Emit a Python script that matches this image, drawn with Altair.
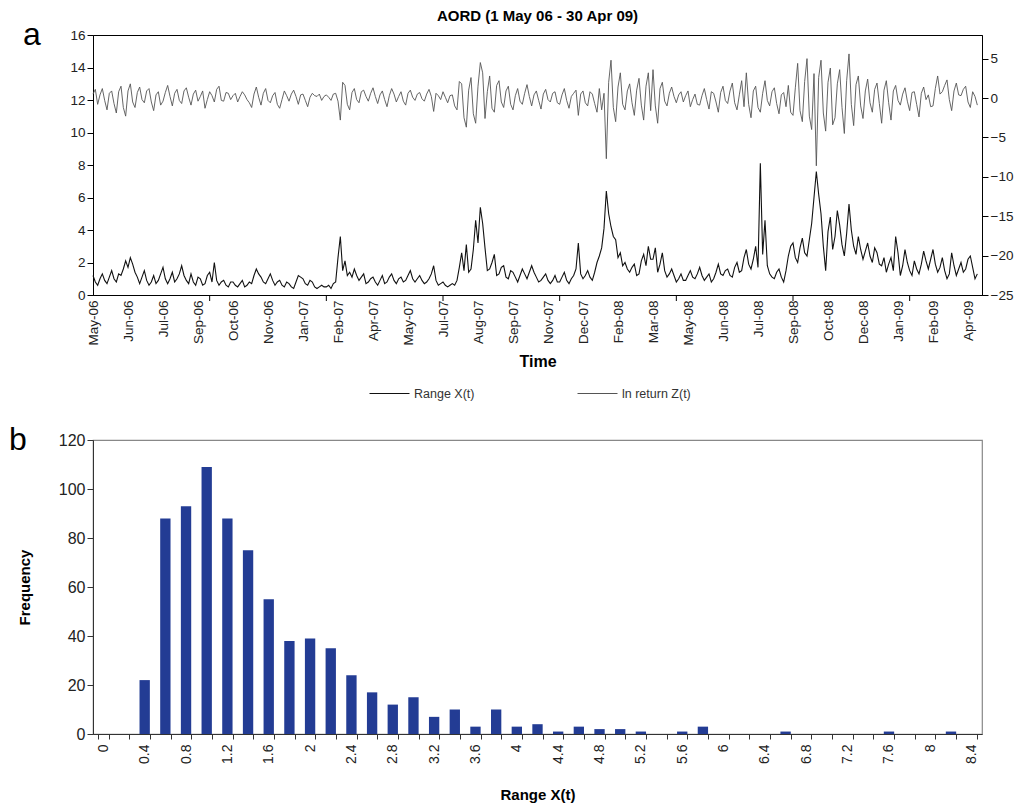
import json
import altair as alt
import pandas as pd

FONT = "Liberation Sans"

# ---------------- Panel a: daily series (sampled every 2 trading days) ----------------
day_index = list(range(0, 760, 2))  # trading-day index 0..758

range_x = [
    1.2, 0.8, 0.6, 1.0, 1.3, 0.9, 0.7, 1.1, 1.5, 1.0, 0.8, 1.3, 1.2, 1.6, 2.1, 1.7, 2.3, 1.9, 1.4, 1.1,
    0.7, 1.1, 1.5, 0.9, 0.6, 0.8, 1.2, 0.7, 0.9, 1.3, 1.7, 1.0, 0.7, 1.0, 1.4, 0.8, 1.0, 1.3, 1.8, 1.2,
    0.9, 0.7, 1.3, 0.8, 0.6, 1.1, 1.0, 0.6, 0.7, 1.2, 1.4, 0.8, 2.0, 0.9, 0.6, 0.8, 0.9, 0.6, 0.5, 0.8,
    0.8, 0.6, 0.5, 0.7, 0.9, 0.5, 0.6, 0.8, 0.7, 1.2, 1.6, 1.3, 1.1, 0.8, 0.7, 1.0, 1.3, 0.9, 0.6, 0.8,
    0.9, 0.6, 0.5, 0.8, 0.7, 0.5, 0.4, 0.8, 1.2, 1.1, 1.0, 0.7, 0.6, 0.9, 0.8, 0.5, 0.4, 0.5, 0.6, 0.5,
    0.5, 0.6, 0.4, 0.7, 0.8, 2.3, 3.6, 1.5, 2.1, 1.2, 1.4, 1.1, 1.6, 1.2, 0.9, 1.1, 1.3, 0.7, 0.8, 1.0,
    1.1, 0.8, 0.6, 0.9, 1.2, 0.7, 0.8, 1.1, 1.3, 0.9, 0.7, 1.0, 1.1, 0.8, 0.9, 1.2, 1.5, 1.0, 0.8, 1.0,
    1.2, 0.9, 0.7, 0.8, 1.0, 1.3, 1.8, 0.9, 0.6, 0.7, 0.8, 0.6, 0.5, 0.6, 0.7, 0.6, 0.9, 1.7, 2.6, 1.5,
    3.1, 1.4, 1.6, 2.8, 4.6, 3.2, 5.4, 4.4, 2.9, 1.5, 1.6, 2.0, 2.5, 1.2, 1.3, 1.7, 1.8, 1.1, 1.0, 1.5,
    1.4, 1.1, 0.8, 1.2, 1.6, 1.3, 1.0, 1.4, 1.8, 1.4, 1.1, 0.8, 0.9, 1.1, 1.3, 0.9, 0.7, 0.9, 1.2, 0.8,
    0.8, 1.1, 1.4, 0.9, 0.7, 1.0, 1.2, 1.6, 3.2, 1.3, 1.0, 1.2, 1.5, 1.1, 0.9, 1.4, 2.0, 2.4, 2.9, 4.1,
    6.4, 5.0, 4.2, 3.6, 3.4, 2.3, 2.6, 1.8, 2.0, 1.6, 1.4, 1.7, 1.9, 1.2, 1.3, 2.1, 2.5, 1.8, 3.0, 2.2,
    2.2, 2.9, 1.4, 1.9, 2.6, 1.5, 1.1, 1.3, 1.6, 1.2, 0.8, 1.0, 1.3, 0.9, 0.9, 1.2, 1.5, 1.1, 1.0, 1.3,
    1.7, 1.2, 0.9, 1.1, 1.3, 0.8, 1.0, 1.4, 1.9, 1.3, 1.2, 1.5, 1.6, 1.2, 1.1, 1.7, 2.0, 1.4, 1.5, 2.3,
    2.8, 1.9, 1.6, 2.2, 3.0, 1.7, 8.1, 2.5, 4.6, 1.8, 1.3, 1.1, 1.0, 1.4, 1.6, 1.1, 0.8, 1.5, 2.4, 3.0,
    3.2, 2.3, 2.0, 2.9, 3.5, 2.6, 2.4, 3.4, 4.4, 6.0, 7.6, 6.2, 5.0, 3.0, 1.5, 3.9, 4.8, 2.8, 3.6, 5.2,
    4.3, 3.1, 2.4, 3.8, 5.6, 4.0, 3.0, 2.5, 3.6, 2.8, 2.2, 2.7, 3.2, 2.4, 2.0, 2.9, 2.6, 1.9, 1.8, 2.3,
    1.4, 1.9, 2.3, 1.5, 3.6, 2.6, 1.2, 1.8, 2.8, 2.0, 1.5, 1.2, 2.1, 1.6, 1.3, 1.9, 2.7, 2.1, 1.6, 2.2,
    2.8, 1.9, 1.4, 1.7, 2.3, 1.5, 1.0, 1.3, 2.6, 1.8, 1.2, 1.6, 2.0, 1.4, 1.6, 2.2, 2.4, 1.7, 1.0, 1.3,
]

ln_return = [
    0.5, 1.1, -0.8, 0.4, 1.2, -0.3, -1.5, 0.6, 0.9, -0.7, -1.9, 0.8, 1.5, -1.2, -2.3, 0.9, 1.8, -0.5, -1.2, 0.7,
    1.4, -0.2, -0.6, 0.9, 1.2, -0.5, -1.6, 0.4, 0.8, -0.9, -0.4, 0.7, 1.6, 0.2, -1.0, 0.6, 1.1, -0.3, -0.7, 0.9,
    1.3, 0.1, -0.9, 0.5, 1.0, -0.4, 0.2, 0.9, -1.3, -0.2, 0.8, 0.3, -0.5, 1.1, 1.5, -0.3, -0.4, 0.7, 0.6, -0.2,
    0.3, 0.6, -0.5, 0.2, 0.8, 0.4, -0.2, -0.6, -1.2, 0.5, 1.4, 0.1, -0.9, 0.6, 1.2, -0.3, -0.6, 0.3, 0.7, -0.8,
    -1.3, -0.2, 0.9, 0.3, -0.4, 0.5, 1.0, 0.2, -0.8, 0.4, 0.5, -0.3, -1.1, 0.1, 0.6, 0.3, 0.2, 0.5, -0.3, 0.2,
    0.4, 0.1, -0.3, 0.5, 0.6, -0.4, -2.8, 2.0, 1.6, -0.8, -1.5, 0.7, 1.2, -0.2, -0.6, 0.8, 1.0, 0.2, -0.4, 0.6,
    1.3, 0.2, -0.7, 0.4, 0.9, -0.2, -1.1, 0.3, 1.2, 0.5, -0.5, 0.2, 0.8, -0.4, -0.9, 0.6, 1.0, 0.1, -0.3, 0.5,
    0.7, -0.1, -0.4, 0.5, 1.1, 0.2, -1.7, 0.6, 0.3, -0.2, 0.8, 0.1, -0.6, 0.3, 0.4, -1.0, -1.5, 2.1, 1.8, -2.5,
    -3.7, 1.0, 2.6, -2.0, -3.2, 1.5, 4.5, 3.2, -2.6, 0.8, 2.8, -1.3, -1.8, 1.6, 2.2, -0.5, -1.2, 0.9, 1.5, -0.8,
    -1.5, 0.3, 1.2, -0.4, -0.8, 0.6, 1.7, 0.2, -1.0, 0.4, 0.9, -0.3, -1.4, 0.5, 1.1, -0.2, -0.5, 0.6, 0.8, -0.6,
    -0.8, 0.4, 1.2, -0.3, -1.3, 0.2, 0.6, 1.0, -2.2, 0.5, 0.9, -0.6, -1.0, 0.8, 0.5, -0.7, -1.8, 1.2, -1.5, 0.6,
    -7.7, 2.0, 4.8, -1.2, -3.0, 1.4, 3.2, -0.8, -1.5, 0.9, 1.8, -0.6, -2.2, 1.0, 2.5, -0.9, -2.8, 1.5, 3.2, -1.6,
    3.6, -1.0, -3.2, 1.2, 2.0, -0.4, -1.0, 0.6, 1.4, 0.2, -0.6, 0.4, 0.8, -0.5, 0.3, 0.9, -1.1, -0.2, 0.5, -0.8,
    -0.9, 0.3, 1.2, -0.2, -1.4, 0.8, 0.6, -0.5, -1.8, 0.7, 1.5, -0.3, -0.7, 0.9, 1.9, -0.6, -1.5, 0.4, 2.2, -1.1,
    3.2, -0.8, -2.5, 0.9, 1.5, -1.2, -1.8, 0.6, 2.2, -0.3, -1.0, 0.8, 1.3, -0.7, -2.0, 0.4, 0.7, -1.1, 1.6, -1.8,
    -2.2, 1.3, 4.4, -1.6, -3.0, 2.1, 5.0, -2.3, -4.0, 3.1, -8.6, 2.6, 4.8, -1.9, -4.2, 2.0, 3.8, -3.4, -2.5, 1.8,
    3.6, -1.2, -4.5, 2.2, 5.6, -0.8, -3.5, 1.7, 2.8, -1.0, -2.6, 0.9, 2.4, -0.6, -1.8, 1.1, 1.9, -0.7, -3.2, 1.0,
    2.2, -0.6, -2.8, 0.9, 1.6, -0.3, -0.9, 0.5, 1.3, -0.4, -1.6, 0.7, 0.8, -0.8, -2.4, 0.6, 1.4, -0.2, 0.4, -1.1,
    -1.0, 1.2, 2.8, 0.5, 0.8, 1.6, 2.3, -0.2, -1.6, 0.9, 1.9, 0.4, 0.3, 1.1, 1.5, -0.5, -1.2, 0.8, 0.2, -0.9,
]

month_labels = ["May-06", "Jun-06", "Jul-06", "Sep-06", "Oct-06", "Nov-06", "Jan-07",
                "Feb-07", "Apr-07", "May-07", "Jul-07", "Aug-07", "Sep-07", "Nov-07",
                "Dec-07", "Feb-08", "Mar-08", "May-08", "Jun-08", "Jul-08", "Sep-08",
                "Oct-08", "Dec-08", "Jan-09", "Feb-09", "Apr-09"]
label_positions = [0, 30, 60, 90, 120, 150, 180, 210, 240, 270, 300, 330, 360, 390,
                   420, 450, 480, 510, 540, 570, 600, 630, 660, 690, 720, 750]
major_ticks = [100, 200, 300, 400, 500, 600, 700]

series_names = ["Range X(t)", "ln return Z(t)"]

# ---------------- Panel b: histogram ----------------
bins = ["0", "0.2", "0.4", "0.6", "0.8", "1", "1.2", "1.4", "1.6", "1.8",
        "2", "2.2", "2.4", "2.6", "2.8", "3", "3.2", "3.4", "3.6", "3.8",
        "4", "4.2", "4.4", "4.6", "4.8", "5", "5.2", "5.4", "5.6", "5.8",
        "6", "6.2", "6.4", "6.6", "6.8", "7", "7.2", "7.4", "7.6", "7.8",
        "8", "8.2", "8.4"]
frequency = [0, 0, 22, 88, 93, 109, 88, 75, 55, 38,
             39, 35, 24, 17, 12, 15, 7, 10, 3, 10,
             3, 4, 1, 3, 2, 2, 1, 0, 1, 3,
             0, 0, 0, 1, 0, 0, 0, 0, 1, 0,
             0, 1, 0]

# ---------------- build panel a ----------------
ts = pd.DataFrame({"t": day_index, "X": range_x, "Z": ln_return})

W1, H1 = 889, 260
label_expr = json.dumps(month_labels) + "[round(datum.value / 30)]"

xenc = alt.X(
    "t:Q",
    scale=alt.Scale(domain=[0, 762], nice=False, zero=False),
    axis=alt.Axis(values=label_positions, labelExpr=label_expr, labelAngle=-90,
                  ticks=False, grid=False, title="Time", titleFontSize=16,
                  titleFontWeight="bold", titleFont=FONT, labelFont=FONT,
                  labelFontSize=13.5, labelColor="#222", domainColor="black",
                  labelPadding=5, titlePadding=8),
)

color_scale = alt.Scale(domain=series_names, range=["#111111", "#555555"])
legend = alt.Legend(orient="none", legendX=276, legendY=338, direction="horizontal",
                    title=None, symbolType="stroke", symbolSize=1600,
                    symbolStrokeWidth=1, labelFont=FONT, labelFontSize=12.5,
                    labelColor="#333", columnPadding=100, labelOffset=4)

line_x = alt.Chart(ts).transform_calculate(series="'Range X(t)'").mark_line(
    strokeWidth=1.1).encode(
    x=xenc,
    y=alt.Y("X:Q", scale=alt.Scale(domain=[0, 16], nice=False),
            axis=alt.Axis(values=list(range(0, 17, 2)), grid=False, title=None,
                          labelFont=FONT, labelFontSize=13.5, labelColor="#222",
                          domainColor="black", tickColor="black", tickSize=6)),
    color=alt.Color("series:N", scale=color_scale, legend=legend),
)

line_z = alt.Chart(ts).transform_calculate(series="'ln return Z(t)'").mark_line(
    strokeWidth=0.9).encode(
    x=xenc,
    y=alt.Y("Z:Q", scale=alt.Scale(domain=[-25, 8], nice=False, zero=False),
            axis=alt.Axis(orient="right", values=[-25, -20, -15, -10, -5, 0, 5],
                          grid=False, title=None, labelFont=FONT, labelFontSize=13.5,
                          labelColor="#222", domainColor="black", tickColor="black",
                          tickSize=6)),
    color=alt.Color("series:N", scale=color_scale, legend=legend),
)

tick_marks = alt.Chart(pd.DataFrame({"t": major_ticks})).mark_rule(
    color="black", strokeWidth=1).encode(
    x=xenc, y=alt.value(H1), y2=alt.value(H1 + 6))

letter_a = alt.Chart(pd.DataFrame({"lab": ["a"]})).mark_text(
    font=FONT, fontSize=32, align="left", baseline="middle", color="black").encode(
    text="lab:N", x=alt.value(-70), y=alt.value(0))

panel_a = alt.layer(line_x, line_z, tick_marks, letter_a).resolve_scale(
    y="independent").properties(
    width=W1, height=H1,
    title=alt.TitleParams("AORD (1 May 06 - 30 Apr 09)", font=FONT, fontSize=15,
                          fontWeight="bold", anchor="middle", offset=-5, color="black"),
    view=alt.ViewBackground(stroke="black", strokeWidth=1),
)

# ---------------- build panel b ----------------
hist_df = pd.DataFrame({"bin": bins, "freq": frequency})
W2, H2 = 889, 294

bars = alt.Chart(hist_df).mark_bar(color="#233c94").encode(
    x=alt.X("bin:N", sort=bins,
            scale=alt.Scale(domain=bins, paddingInner=0.5, paddingOuter=0.25),
            axis=alt.Axis(title="Range X(t)", titleFont=FONT, titleFontSize=15,
                          titleFontWeight="bold", labelFont=FONT, labelFontSize=14,
                          labelColor="#222", labelAngle=-90, tickBand="extent",
                          labelExpr="round(toNumber(datum.value) * 10) % 4 == 0 ? datum.value : ''",
                          domainColor="#333", tickColor="#333", tickSize=5,
                          labelPadding=5, titlePadding=24)),
    y=alt.Y("freq:Q", scale=alt.Scale(domain=[0, 120], nice=False),
            axis=alt.Axis(values=list(range(0, 121, 20)), grid=False, title="Frequency",
                          titleFont=FONT, titleFontSize=15, titleFontWeight="bold",
                          labelFont=FONT, labelFontSize=16, labelColor="#222",
                          domainColor="#333", tickColor="#333", tickSize=6,
                          titlePadding=26)),
)

letter_b = alt.Chart(pd.DataFrame({"lab": ["b"]})).mark_text(
    font=FONT, fontSize=32, align="left", baseline="middle", color="black").encode(
    text="lab:N", x=alt.value(-84), y=alt.value(0))

panel_b = alt.layer(bars, letter_b).properties(
    width=W2, height=H2,
    view=alt.ViewBackground(stroke="#888", strokeWidth=1.2),
)

chart = alt.vconcat(panel_a, panel_b, spacing=22).resolve_scale(
    color="independent").configure(
    background="white", padding={"left": 0, "top": 0, "right": 0, "bottom": 0})

chart.save("out.html", embed_options={"renderer": "svg", "actions": False})
